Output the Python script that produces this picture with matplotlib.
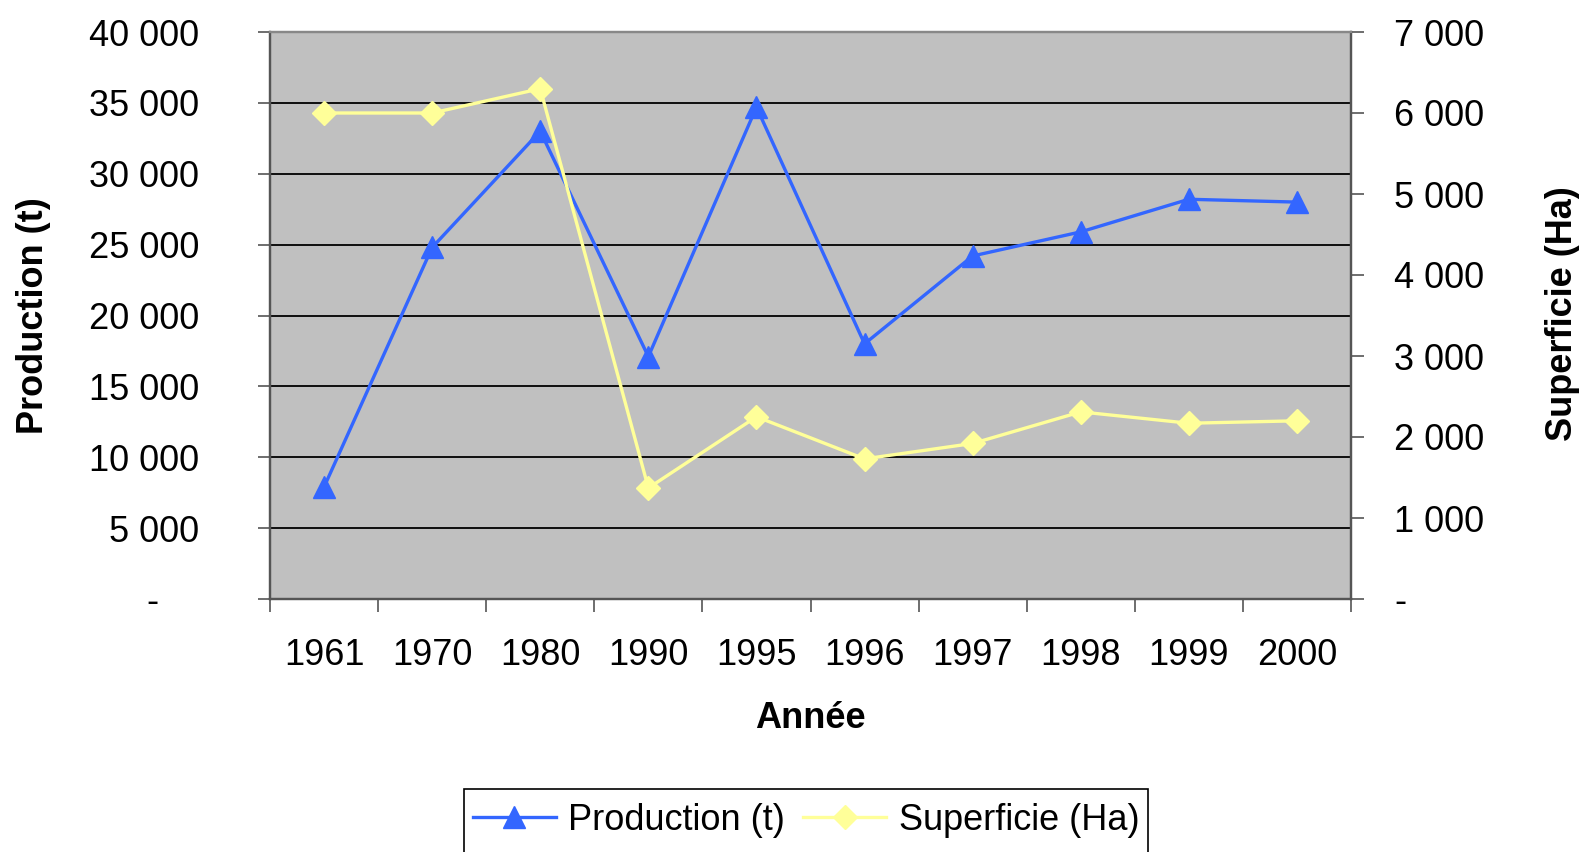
import matplotlib.pyplot as plt
from matplotlib.ticker import FuncFormatter, FixedLocator
from matplotlib.patches import Rectangle

plt.rcParams['font.family'] = ['Liberation Sans', 'DejaVu Sans']

annees = ['1961', '1970', '1980', '1990', '1995', '1996', '1997', '1998', '1999', '2000']
production = [7900, 24800, 33000, 17100, 34700, 18000, 24200, 25900, 28200, 28000]
superficie = [6000, 6000, 6300, 1370, 2250, 1730, 1920, 2310, 2170, 2200]

bleu = '#3366FF'
jaune = '#FFFF99'
gris_axe = '#555555'
fs = 26


def fmt_left(v, pos):
	if v == 0:
		return '-    '
	return f'{int(v):,}'.replace(',', ' ')


def fmt_right(v, pos):
	if v == 0:
		return '-'
	return f'{int(v):,}'.replace(',', ' ')


fig = plt.figure(figsize=(15.88, 8.52), dpi=100)
ax = fig.add_axes([270/1588, 1-599/852, (1351-270)/1588, (599-32)/852])
ax2 = ax.twinx()

x = list(range(len(annees)))
l1, = ax.plot(x, production, color=bleu, lw=2.4, marker='^', ms=16, label='Production (t)', zorder=3)
l2, = ax2.plot(x, superficie, color=jaune, lw=2.4, marker='D', ms=12, label='Superficie (Ha)', zorder=3)

ax.set_facecolor('#C0C0C0')
ax.set_xlim(-0.5, len(annees)-0.5)
ax.set_ylim(0, 40000)
ax2.set_ylim(0, 7000)
ax.set_yticks(range(0, 40001, 5000))
ax2.set_yticks(range(0, 7001, 1000))
ax.yaxis.set_major_formatter(FuncFormatter(fmt_left))
ax2.yaxis.set_major_formatter(FuncFormatter(fmt_right))
ax.yaxis.grid(True, color='black', lw=1.3)
ax.set_axisbelow(True)

# category ticks between labels, labels at centres
ax.xaxis.set_major_locator(FixedLocator([i-0.5 for i in range(len(annees)+1)]))
ax.xaxis.set_minor_locator(FixedLocator(x))
ax.set_xticklabels([], minor=False)
ax.set_xticklabels(annees, minor=True)
ax.tick_params(axis='x', which='major', length=9, width=1.2, color=gris_axe)
ax.tick_params(axis='x', which='minor', length=0, pad=28, labelsize=fs)
ax.tick_params(axis='y', length=9, width=1.2, color=gris_axe, pad=42, labelsize=fs)
ax2.tick_params(axis='y', length=9, width=1.2, color=gris_axe, pad=22, labelsize=fs)

for a in (ax, ax2):
	for s in a.spines.values():
		s.set_color(gris_axe)
		s.set_linewidth(1.6)
	a.spines['top'].set_color('#888888')

fig.text(34/1588, 1-316/852, 'Production (t)', rotation=90, ha='center', va='center', fontsize=fs, fontweight='bold')
fig.text(1563/1588, 1-314/852, 'Superficie (Ha)', rotation=90, ha='center', va='center', fontsize=fs, fontweight='bold')
fig.text(810/1588, 1-718/852, 'Année', ha='center', va='center', fontsize=fs, fontweight='bold')

fig.patches.append(Rectangle((464/1588, -0.05), (1148-464)/1588, 0.05+1-789/852,
	transform=fig.transFigure, fill=False, edgecolor='black', lw=1.2))
fig.legend([l1, l2], ['Production (t)', 'Superficie (Ha)'], loc='center', ncol=2,
	bbox_to_anchor=(806/1588, 1-820/852), frameon=False, fontsize=fs,
	handlelength=2.3, handletextpad=0.35, columnspacing=0.5)

fig.savefig('out.png', dpi=100)
